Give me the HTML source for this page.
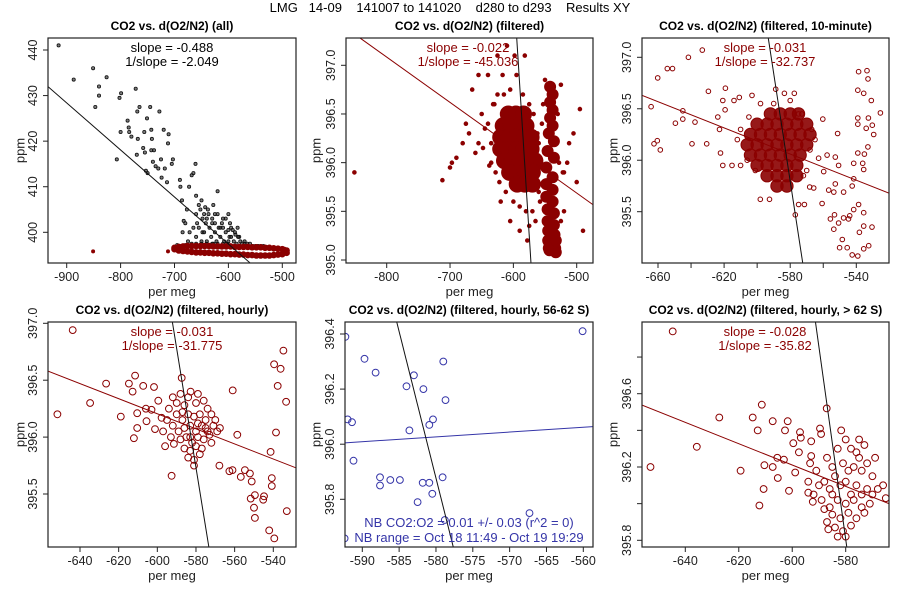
<!DOCTYPE html>
<html><head><meta charset="utf-8">
<style>
html,body{margin:0;padding:0;background:#fff;}
svg{display:block;font-family:"Liberation Sans",Arial,sans-serif;}
</style></head>
<body>
<svg id="chart" width="900" height="600" viewBox="0 0 900 600">
<rect width="900" height="600" fill="#fff"/>
<text x="450" y="12" font-size="13" text-anchor="middle" fill="#000" xml:space="preserve">LMG   14-09    141007 to 141020    d280 to d293    Results XY</text>
</svg>
<script>
// ---------- DATA ----------
// Panel 1 (all)
const p1BlackX=[-915,-887,-851,-847,-840,-840,-826,-807,-802,-799,-800,-787,-785,-784,-780,-772,-769,-765,-770,-768,-758,-756,-751,-755,-753,-750,-745,-743,-743,-742,-738,-740,-735,-730,-728,-725,-724,-720,-718,-714,-712,-711,-705,-703,-690,-689,-686,-683,-677,-673,-668,-665,-661,-660,-655,-650,-645,-640,-630,-625,-620,-610,-600,-595,-580,-570,
-675,-668,-660,-655,-650,-648,-645,-642,-640,-638,-635,-632,-630,-628,-625,-622,-618,-615,-612,-608,-605,-602,-598,-595,-590,-588,-585,-582,-578,-575,-570,-565,-560,-555,-550,-545,-540,-535,-530,-685,-690,-695,-660,-652,-643,-637,-628,-620,-610,-600,-597,-592,-587,-583,-605,-615,-625,-648,-658,-665,-672,-680,-685,-600,-610,-620,-630,-640,-650,-660,-670,-680];
const p1BlackY=[441,433.5,436,427.5,432,430,434,416,429.5,430.5,422,424.5,423,422,421,431.5,426.5,427.5,417,420.5,418.5,422,425,417.5,413.5,413,427.5,422.5,418,420.5,418,415.5,414.5,414,426.5,416,412,422.5,414,411,419.5,421.5,415,416,411.5,410,407,402.5,405,410,412.5,413,415,408,406,407,404,403,402,404,409,401,400.5,399,399,397.5,
398,397.5,399,401,398,403,400,402,398,405,401,399,403,397.5,400,398,401,399,402,398,400,397.5,399,401,398,400,397.5,399,398,397.5,398,397.5,397.5,397,397,397,397,397,396.8,397,397,397.2,404,405,405.5,404,406,404,403,404,402,400.5,399.5,401,403,401,402,400,402,401,400,402,400,398,397.5,397.5,397.5,397.5,397.5,397.5,397.2,397.2];
const p1RedX=[-700,-692,-684,-676,-668,-660,-652,-644,-636,-628,-620,-612,-604,-596,-588,-580,-572,-564,-556,-548,-540,-532,-524,-516,-508,-500,-492,
-700,-692,-684,-676,-668,-660,-652,-644,-636,-628,-620,-612,-604,-596,-588,-580,-572,-564,-556,-548,-540,-532,-524,-516,-508,-500,-492];
const p1RedY=[396.6,396.8,396.9,397.0,397.0,397.0,397.0,397.0,397.0,396.9,396.9,396.9,396.9,396.9,396.8,396.8,396.8,396.8,396.7,396.7,396.7,396.6,396.6,396.5,396.4,396.3,396.0,
396.3,396.0,395.9,395.8,395.7,395.6,395.6,395.5,395.5,395.4,395.4,395.3,395.3,395.2,395.2,395.1,395.1,395.0,395.0,394.9,394.9,394.9,394.9,395.0,395.1,395.2,395.5];
const p1RedOutX=[-851,-712,-496,-490];
const p1RedOutY=[395.8,395.8,396.4,395.4];
const p1LineX=[-935,-560], p1LineY=[432,393.3];
// Panel 2 (filtered)
const p2CoreX=[-608,-596,-584,-616,-604,-592,-580,-620,-608,-596,-584,-572,-620,-608,-596,-584,-572,-614,-602,-590,-578,-566,-606,-594,-582,-570,-594,-582,-570];
const p2CoreY=[396.5,396.5,396.5,396.38,396.38,396.38,396.38,396.26,396.26,396.26,396.26,396.26,396.14,396.14,396.14,396.14,396.14,396.02,396.02,396.02,396.02,396.02,395.9,395.9,395.9,395.9,395.78,395.78,395.78];
const p2ColX=[-542,-538,-542,-538,-542,-538,-544,-536,-546,-536,-548,-538,-548,-538,-548,-538,-546,-536,-546,-536,-545,-535,-545,-535,-544,-534,-543,-533,-543,-533];
const p2ColY=[396.78,396.7,396.62,396.54,396.46,396.38,396.3,396.22,396.12,396.05,395.95,395.85,395.78,395.72,395.65,395.6,395.52,395.48,395.4,395.36,395.3,395.26,395.2,395.18,395.12,395.12,395.1,395.08,395.15,395.2];
const p2X=[-851,-712,-697,-690,-680,-670,-665,-660,-655,-650,-645,-640,-638,-630,-625,-620,-617,-610,-605,-598,-590,-582,-578,-560,-525,-512,-505,-495,-490,-500,-520,-515,-530,-525,-520,-655,-648,-635,-700,-675,
-640,-635,-632,-628,-625,-622,-615,-612,-605,-600,-595,-590,-585,-575,-568,-562,-558,-570,-575,-580,-565,-555,-560,-550,-528,-522,-553,-556];
const p2Y=[395.9,395.82,396.0,396.05,396.2,396.3,396.75,396.1,396.9,396.5,396.35,396.9,395.97,396.6,397.1,395.6,396.9,397.2,395.4,397.1,395.3,397.1,395.2,395.7,396.8,396.2,396.3,396.55,395.3,395.8,395.9,396.0,396.5,395.4,395.5,396.2,396.15,396.0,395.95,396.4,
396.4,396.2,396.6,395.9,396.7,395.8,396.7,395.7,396.75,395.6,396.9,395.55,396.7,396.6,396.5,396.3,395.6,395.5,395.35,395.5,395.4,396.4,396.2,396.85,396.0,395.9,396.6,395.95];
const p2RedLineX=[-842,-474.7], p2RedLineY=[397.28,395.57];
const p2BlkLineX=[-594.7,-572.2], p2BlkLineY=[397.28,394.97];
// Panel 3 (10-minute)
const p3CoreX=[-592,-586,-580,-575,-600,-594,-588,-582,-576,-570,-604,-598,-592,-586,-580,-574,-568,-606,-600,-594,-588,-582,-576,-570,-604,-598,-592,-586,-580,-574,-600,-594,-588,-582,-576,-594,-588,-582,-576,-588,-582];
const p3CoreY=[396.45,396.45,396.45,396.45,396.35,396.35,396.35,396.35,396.35,396.35,396.25,396.25,396.25,396.25,396.25,396.25,396.25,396.15,396.15,396.15,396.15,396.15,396.15,396.15,396.05,396.05,396.05,396.05,396.05,396.05,395.95,395.95,395.95,395.95,395.95,395.85,395.85,395.85,395.85,395.75,395.75];
const p3X=[-664.2,-660.2,-654.4,-651.2,-641.6,-633.2,-662.4,-660.4,-658.6,-649.5,-645,-645,-637.6,-639.4,-630.5,-629.5,-623.8,-619.2,-620.8,-619.4,-614,-610.8,-603.1,-622.2,-620.8,-622.8,-615.2,-598.1,-592.5,-601.1,-588.8,-583.5,-577.5,-574.9,-576.9,-574.9,-571.4,-568.2,-565.8,-562.8,-559.7,-557.7,-560.3,-551.3,-552.7,-550.7,-552.7,-547.7,-556.7,-553.6,-560.7,-555.7,-553.2,-550.7,-547.7,-544,-541.6,-538.6,-535.5,-553.6,-548.5,-545.5,-542.5,-539.1,-535.5,-532.5,-550.1,-538.6,-533.5,-532.9,-539.1,-535.5,-530.9,-525.4,-539.1,-532.7,-539.1,-534,-530.3,-529.5,-533,-539.1,-535.1,-536.1,-541.6,-535.5,-541.6,-542.5,-535.5,-530.5,-538.1,-544.7,
-610,-605,-612,-610,-606,-565,-567,-568,-570,-572,-598,-590,-580,-573];
const p3Y=[396.52,396.80,396.89,396.89,397.0,397.07,396.16,396.19,396.10,396.36,396.40,396.48,396.37,396.16,396.16,396.67,396.42,396.70,396.58,396.49,396.58,396.61,396.63,396.07,395.95,396.30,395.95,395.62,395.62,395.9,396.69,396.65,396.65,396.45,395.47,395.57,395.57,395.74,395.73,396.02,395.89,396.05,396.40,396.26,396.03,395.95,395.77,395.69,395.71,395.69,395.58,395.43,395.47,395.39,395.44,395.46,395.52,395.57,395.49,395.33,395.23,395.15,395.08,395.07,395.14,395.17,395.15,396.86,396.87,396.79,396.68,396.65,396.58,396.46,396.41,396.41,396.35,396.31,396.34,396.25,396.13,396.07,396.06,395.97,395.97,395.91,395.82,395.75,395.36,395.35,395.30,395.43,
396.3,396.42,396.2,395.95,396.0,396.2,396.3,396.1,395.9,395.85,396.55,396.55,396.58,396.45];
const p3RedLineX=[-669.7,-520.2], p3RedLineY=[396.63,395.68];
const p3BlkLineX=[-593.3,-572.4], p3BlkLineY=[397.19,395.0];
// Panel 4 (hourly)
const p4X=[-643.8,-651.7,-634.8,-626.5,-618.9,-614.7,-612.8,-611.5,-610.4,-610.4,-612.1,-607.3,-605.9,-605.6,-603,-601.7,-601.2,-599.5,-597.8,-592.6,-591.4,-587.4,-582.8,-567.6,-561,-558.6,-567.9,-562.7,-561.1,-554.7,-556.8,-552.1,-551.2,-551.7,-549.5,-550,-549.5,-544.8,-545.2,-542.1,-539.5,-540.8,-540.8,-541.4,-538.6,-539.6,-537.7,-536.2,-534.8,-533.4,-533,
-590,-588,-586,-584,-580,-576,-574,-572,-590,-587,-584,-581,-578,-575,-592,-589,-586,-583,-580,-577,-574,-571,-588,-585,-582,-579,-576,-573,-586,-583,-580,-577,-584,-581,-578,-595,-597,-594,-592,-570,-569,-583,-587,-579,-575,-581,-596,-593,-572,-579];
const p4Y=[396.94,396.20,396.30,396.47,396.18,396.47,396.40,396.54,396.21,396.08,395.99,396.45,396.25,396.14,396.24,396.44,396.07,396.32,396.17,395.66,395.94,396.52,396.40,396.08,396.41,396.02,395.75,395.70,395.71,395.71,395.65,395.68,395.61,395.46,395.49,395.38,395.29,395.48,395.45,395.18,395.11,395.64,395.57,395.87,396.04,396.64,396.45,396.60,396.76,396.31,395.35,
396.3,396.38,396.28,396.35,396.3,396.32,396.25,396.2,396.2,396.15,396.2,396.18,396.2,396.15,396.1,396.05,396.08,396.1,396.05,396.1,396.05,396.1,395.98,396.0,395.95,396.0,395.98,396.02,395.9,395.88,395.92,395.9,395.82,395.8,395.85,396.15,396.05,396.25,396.35,396.15,396.05,396.0,396.22,396.12,396.08,395.75,395.92,396.0,395.95,396.38];
const p4RedLineX=[-656.6,-528.3], p4RedLineY=[396.58,395.73];
const p4BlkLineX=[-592.2,-573.3], p4BlkLineY=[397.01,395.03];
// Panel 5 (56-62 S)
const p5X=[-592.3,-589.7,-588.2,-583,-584,-581.7,-579,-578.7,-592,-591.4,-583.6,-580.4,-580.9,-591.2,-587.6,-587.6,-586.2,-584.9,-581.8,-580.9,-579.1,-580.5,-582.5,-578.8,-567.3,-560.1,-592.4];
const p5Y=[396.39,396.31,396.26,396.25,396.21,396.2,396.3,396.16,396.09,396.08,396.05,396.09,396.07,395.94,395.88,395.85,395.87,395.87,395.86,395.86,395.88,395.82,395.79,395.725,395.75,396.41,395.658];
const p5BlueLineX=[-592.35,-558.7], p5BlueLineY=[396.005,396.064];
const p5BlkLineX=[-585.33,-577.65], p5BlkLineY=[396.444,395.627];
// Panel 6 (> 62 S)
const p6X=[-644.7,-653,-635.7,-627.3,-619.3,-614.8,-612.9,-611.4,-610.4,-610.7,-612.3,-607.3,-607.3,-605.6,-605.4,-602.7,-601.7,-601.2,-603.1,-599.6,-598.9,-597.5,-597.1,-596.8,-594,-592.3,-593.3,-592.9,-592.9,-589.6,-589.2,-587.1,-588,-586.5,-581.7,
-590,-588,-586,-584,-582,-580,-578,-576,-574,-572,-570,-568,-589,-586,-583,-580,-577,-574,-571,-585,-582,-579,-576,-573,-584,-581,-578,-583,-580,-585,-581,-577,-574,-572,-576,-573,-578,-575,-583,-580,-587,-570,-569,-566,-565,-575,-579,-585,-592,-594,-591,-587];
const p6Y=[396.94,396.20,396.31,396.47,396.18,396.47,396.40,396.54,396.21,396.08,395.99,396.45,396.20,396.25,396.14,396.40,396.45,396.07,396.24,396.33,396.17,396.28,396.39,396.36,396.06,396.01,396.22,396.34,396.26,396.41,396.38,396.52,395.97,395.86,396.40,
396.1,396.12,396.08,396.15,396.1,396.12,396.05,396.1,396.05,396.08,396.05,396.08,396.02,395.98,396.02,396.0,396.02,395.98,396.0,395.94,395.92,395.95,395.92,395.95,395.87,395.85,395.88,395.82,395.82,396.2,396.22,396.2,396.18,396.22,396.28,396.32,396.3,396.35,396.3,396.35,396.25,396.15,396.25,396.1,396.03,396.25,396.18,396.05,396.05,396.12,396.18,395.9];
const p6RedLineX=[-656.2,-563.8], p6RedLineY=[396.538,396.0];
const p6BlkLineX=[-591.3,-579.6], p6BlkLineY=[396.99,395.764];
// tick values
const p1XTicks=[-900,-800,-700,-600,-500], p1YTicks=[400,410,420,430,440];
const p2XTicks=[-800,-700,-600,-500], p2YTicks=[395.0,395.5,396.0,396.5,397.0];
const p3XTicks=[-660,-640,-620,-600,-580,-560,-540], p3XLabels=[-660,-620,-580,-540], p3YTicks=[395.5,396.0,396.5,397.0];
const p4XTicks=[-640,-620,-600,-580,-560,-540], p4YTicks=[395.5,396.0,396.5,397.0];
const p5XTicks=[-590,-585,-580,-575,-570,-565,-560], p5YTicks=[395.8,396.0,396.2,396.4];
const p6XTicks=[-640,-620,-600,-580], p6YTicks=[395.8,396.0,396.2,396.4,396.6,396.8], p6YLabels=[395.8,396.2,396.6];

// ---------- DRAW ----------
const NS='http://www.w3.org/2000/svg';
const svg=document.getElementById('chart');
const RED='#8b0000', BLUE='#3535a8';
function mk(tag,attrs,parent){const e=document.createElementNS(NS,tag);for(const k in attrs)e.setAttribute(k,attrs[k]);(parent||svg).appendChild(e);return e;}
function scale(d0,d1,r0,r1){return v=>r0+(v-d0)*(r1-r0)/(d1-d0);}
function fmt(v,dec){return (v<0?'-':'')+Math.abs(v).toFixed(dec);}

function panel(id,cfg){
  const g=mk('g',{});
  
  
  const fx=cfg.fx, fy=cfg.fy, fw=cfg.fw, fh=cfg.fh;
  const sx=scale(cfg.xr[0],cfg.xr[1],cfg.xp[0],cfg.xp[1]);
  const sy=scale(cfg.yr[0],cfg.yr[1],cfg.yp[0],cfg.yp[1]);
  const cp=mk('clipPath',{id:'clip-'+id},g);
  mk('rect',{x:fx,y:fy,width:fw,height:fh},cp);
  const plot=mk('g',{'clip-path':'url(#clip-'+id+')'},g);
  
  
  (cfg.series||[]).forEach(s=>{
    const sg=mk('g',{},plot);
    
    
    for(let i=0;i<s.x.length;i++){
      const c=mk('circle',{cx:sx(s.x[i]).toFixed(1),cy:sy(s.y[i]).toFixed(1),r:s.r,
        fill:s.filled?s.color:'none',stroke:s.color,'stroke-width':s.sw||1,'fill-opacity':s.op||1},sg);
      
      
    }
  });
  (cfg.lines||[]).forEach(l=>{
    const ln=mk('line',{x1:sx(l.x[0]),y1:sy(l.y[0]),x2:sx(l.x[1]),y2:sy(l.y[1]),stroke:l.color,'stroke-width':1},plot);
    
    
  });
  const fr=mk('rect',{x:fx,y:fy,width:fw,height:fh,fill:'none',stroke:'#222','stroke-width':1.2},g);
  
  
  const by=fy+fh, lx=fx;
  const xlabs=cfg.xlabels||cfg.xticks;
  cfg.xticks.forEach(v=>{
    const x=sx(v);
    const t=mk('line',{x1:x,y1:by,x2:x,y2:by+5,stroke:'#222'},g);
    
    
    if(xlabs.indexOf(v)>=0){
      const tl=mk('text',{x:x,y:by+18,'font-size':12.5,'text-anchor':'middle',fill:'#222'},g);
      tl.textContent=fmt(v,0);
      
      
    }
  });
  const ylabs=cfg.ylabels||cfg.yticks;
  cfg.yticks.forEach(v=>{
    const y=sy(v);
    const t=mk('line',{x1:lx-5,y1:y,x2:lx,y2:y,stroke:'#222'},g);
    
    
    if(ylabs.indexOf(v)>=0){
      const cx=lx-15;
      const tl=mk('text',{x:cx,y:y,'font-size':12.5,'text-anchor':'middle','dominant-baseline':'central',fill:'#222',transform:'rotate(-90 '+cx+' '+y+')'},g);
      tl.textContent=fmt(v,cfg.ydec);
      
      
    }
  });
  const ti=mk('text',{x:fx+fw/2,y:fy-8,'font-size':12,'font-weight':'bold','text-anchor':'middle',fill:'#000'},g);
  ti.textContent=cfg.title;
  
  
  const xt=mk('text',{x:fx+fw/2,y:by+33,'font-size':13,'text-anchor':'middle',fill:'#222'},g);
  xt.textContent='per meg';
  
  
  const yx=cfg.ylabx, yy=fy+fh/2;
  const yt=mk('text',{x:yx,y:yy,'font-size':13,'text-anchor':'middle','dominant-baseline':'central',fill:'#222',transform:'rotate(-90 '+yx+' '+yy+')'},g);
  yt.textContent='ppm';
  
  
  (cfg.notes||[]).forEach(n=>{
    const nt=mk('text',{x:n.x,y:n.y,'font-size':13,'text-anchor':'middle',fill:n.color},g);
    nt.textContent=n.t;
    
    
  });
}

panel('panel-all',{fx:48,fy:38,fw:248,fh:225,xr:[-900,-500],xp:[66.7,282.3],yr:[400,440],yp:[232.3,50],
  xticks:p1XTicks,yticks:p1YTicks,ydec:0,ylabx:20,title:'CO2 vs. d(O2/N2) (all)',
  series:[{name:'all-points',x:p1BlackX,y:p1BlackY,r:1.6,color:'#111',filled:true,op:0.55,sw:0.8},
          {name:'filtered-points',x:p1RedX,y:p1RedY,r:2.8,color:RED,filled:true},
          {name:'filtered-outliers',x:p1RedOutX,y:p1RedOutY,r:1.5,color:RED,filled:true}],
  lines:[{name:'fit-line',x:p1LineX,y:p1LineY,color:'#111'}],
  notes:[{name:'slope-label',t:'slope = -0.488',x:172,y:52,color:'#000'},{name:'inverse-slope-label',t:'1/slope = -2.049',x:172,y:66,color:'#000'}]});

panel('panel-filtered',{fx:346,fy:38,fw:247,fh:225,xr:[-800,-500],xp:[386.7,576.7],yr:[395,397],yp:[260,65.3],
  xticks:p2XTicks,yticks:p2YTicks,ydec:1,ylabx:316,title:'CO2 vs. d(O2/N2) (filtered)',
  series:[{name:'filtered-core',x:p2CoreX,y:p2CoreY,r:8,color:RED,filled:true},
          {name:'filtered-column',x:p2ColX,y:p2ColY,r:5.5,color:RED,filled:true},
          {name:'filtered-points',x:p2X,y:p2Y,r:1.8,color:RED,filled:true}],
  lines:[{name:'fit-line-red',x:p2RedLineX,y:p2RedLineY,color:RED},{name:'fit-line-black',x:p2BlkLineX,y:p2BlkLineY,color:'#111'}],
  notes:[{name:'slope-label',t:'slope = -0.022',x:468,y:52,color:RED},{name:'inverse-slope-label',t:'1/slope = -45.036',x:468,y:66,color:RED}]});

panel('panel-10min',{fx:642,fy:38,fw:247,fh:225,xr:[-660,-540],xp:[658,856.3],yr:[395.5,397],yp:[211.7,57.3],
  xticks:p3XTicks,xlabels:p3XLabels,yticks:p3YTicks,ydec:1,ylabx:613,title:'CO2 vs. d(O2/N2) (filtered, 10-minute)',
  series:[{name:'ten-minute-core',x:p3CoreX,y:p3CoreY,r:6.2,color:RED,filled:true,op:0.9},
          {name:'ten-minute-points',x:p3X,y:p3Y,r:2.3,color:RED,filled:false,sw:1}],
  lines:[{name:'fit-line-red',x:p3RedLineX,y:p3RedLineY,color:RED},{name:'fit-line-black',x:p3BlkLineX,y:p3BlkLineY,color:'#111'}],
  notes:[{name:'slope-label',t:'slope = -0.031',x:765,y:52,color:RED},{name:'inverse-slope-label',t:'1/slope = -32.737',x:765,y:66,color:RED}]});

panel('panel-hourly',{fx:48,fy:322,fw:248,fh:225,xr:[-640,-540],xp:[80,273.3],yr:[395.5,397],yp:[494,323.3],
  xticks:p4XTicks,yticks:p4YTicks,ydec:1,ylabx:20,title:'CO2 vs. d(O2/N2) (filtered, hourly)',
  series:[{name:'hourly-points',x:p4X,y:p4Y,r:3.4,color:RED,filled:false,sw:1}],
  lines:[{name:'fit-line-red',x:p4RedLineX,y:p4RedLineY,color:RED},{name:'fit-line-black',x:p4BlkLineX,y:p4BlkLineY,color:'#111'}],
  notes:[{name:'slope-label',t:'slope = -0.031',x:172,y:336,color:RED},{name:'inverse-slope-label',t:'1/slope = -31.775',x:172,y:350,color:RED}]});

panel('panel-hourly-56-62s',{fx:345,fy:322,fw:248,fh:225,xr:[-590,-560],xp:[362.3,583.3],yr:[395.8,396.4],yp:[499.3,334],
  xticks:p5XTicks,yticks:p5YTicks,ydec:1,ylabx:316,title:'CO2 vs. d(O2/N2) (filtered, hourly, 56-62 S)',
  series:[{name:'hourly-56-62s-points',x:p5X,y:p5Y,r:3.4,color:BLUE,filled:false,sw:1}],
  lines:[{name:'fit-line-blue',x:p5BlueLineX,y:p5BlueLineY,color:BLUE},{name:'fit-line-black',x:p5BlkLineX,y:p5BlkLineY,color:'#111'}],
  notes:[{name:'nb-ratio-label',t:'NB CO2:O2 = 0.01 +/- 0.03 (r^2 = 0)',x:469,y:527,color:BLUE},{name:'nb-range-label',t:'NB range = Oct 18 11:49 - Oct 19 19:29',x:469,y:542,color:BLUE}]});

panel('panel-hourly-gt62s',{fx:642,fy:322,fw:247,fh:225,xr:[-640,-580],xp:[685.3,845.7],yr:[395.8,396.6],yp:[540.3,393.7],
  xticks:p6XTicks,yticks:p6YTicks,ylabels:p6YLabels,ydec:1,ylabx:613,title:'CO2 vs. d(O2/N2) (filtered, hourly, > 62 S)',
  series:[{name:'hourly-gt62s-points',x:p6X,y:p6Y,r:3.4,color:RED,filled:false,sw:1}],
  lines:[{name:'fit-line-red',x:p6RedLineX,y:p6RedLineY,color:RED},{name:'fit-line-black',x:p6BlkLineX,y:p6BlkLineY,color:'#111'}],
  notes:[{name:'slope-label',t:'slope = -0.028',x:765,y:336,color:RED},{name:'inverse-slope-label',t:'1/slope = -35.82',x:765,y:350,color:RED}]});
</script>
</body></html>
